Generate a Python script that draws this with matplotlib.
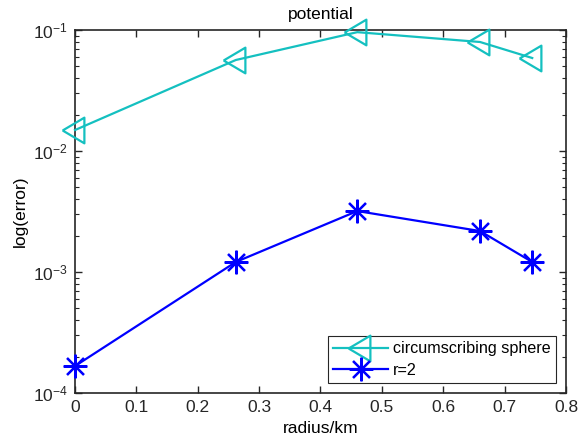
import numpy as np
import matplotlib.pyplot as plt

# data
radius = [0.0, 0.262, 0.46, 0.66, 0.745]
err_sphere = [0.0149, 0.0565, 0.096, 0.0796, 0.0587]
err_r2 = [1.67e-4, 1.21e-3, 3.19e-3, 2.18e-3, 1.21e-3]
labels = ['circumscribing sphere', 'r=2']

plt.rcParams['font.family'] = ['Liberation Sans', 'DejaVu Sans']
plt.rcParams['mathtext.fontset'] = 'custom'
plt.rcParams['mathtext.rm'] = 'Liberation Sans'

# left-pointing triangle, point sits nearer the base like MATLAB's '<'
tri = [(-13, 0), (9, 13), (9, -13), (-13, 0)]

fig = plt.figure(figsize=(5.79, 4.4), dpi=100)
ax = fig.add_axes([0.1295, 0.1068, 0.848, 0.825])

ax.semilogy(radius, err_sphere, '-', color='#14C0C0', lw=1.6,
            marker=tri, ms=18.5, mfc='none', mew=1.6, label=labels[0],
            clip_on=False, zorder=3)
ax.semilogy(radius, err_r2, '-', color='#0000FF', lw=1.6,
            marker=(8, 2, 0), ms=17, mew=1.6, label=labels[1],
            clip_on=False, zorder=3)

ax.set_xlim(0, 0.8)
ax.set_ylim(1e-4, 1e-1)
ax.set_xticks(np.arange(0, 0.81, 0.1))
ax.set_xticklabels(['0', '0.1', '0.2', '0.3', '0.4', '0.5', '0.6', '0.7', '0.8'])
ax.tick_params(which='both', direction='in', top=True, right=True,
               labelsize=12.5, color='#262626', labelcolor='#262626', pad=5)
ax.tick_params(which='major', length=5, width=1)
ax.tick_params(which='minor', length=3, width=0.8)
for s in ax.spines.values():
    s.set_linewidth(1.2)
    s.set_color('#262626')

ax.set_xlabel('radius/km', fontsize=12.5, labelpad=4)
ax.set_ylabel('log(error)', fontsize=12.5, labelpad=4)
ax.set_title('potential', fontsize=12.5, pad=8)

leg = ax.legend(loc='lower right', fontsize=11.6, fancybox=False,
                edgecolor='#262626', framealpha=1, handlelength=3.4,
                borderpad=0.35, labelspacing=0.4, handletextpad=0.3,
                borderaxespad=0.6)
leg.get_frame().set_linewidth(0.8)

fig.savefig('out.png', dpi=100)
